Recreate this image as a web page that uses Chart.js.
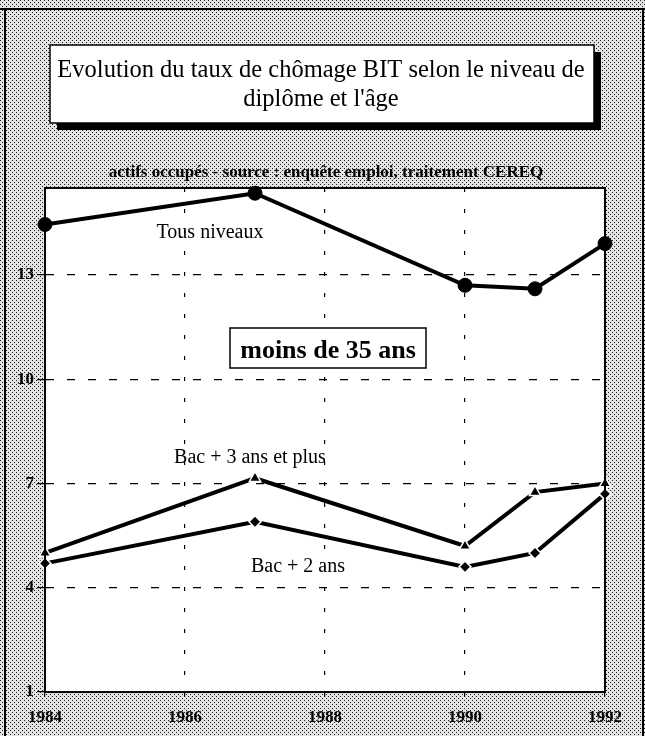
<!DOCTYPE html>
<html lang="fr">
<head>
<meta charset="utf-8">
<title>Evolution du taux de chômage BIT</title>
<script src="https://cdn.jsdelivr.net/npm/chart.js@4.4.1/dist/chart.umd.min.js"></script>
<style>
  html, body { margin: 0; padding: 0; background: #fff; }
  #wrap { width: 645px; height: 736px; position: relative; }
</style>
</head>
<body>
<div id="wrap"><canvas id="chart"></canvas></div>
<script>
const years       = [1984, 1987, 1990, 1991, 1992];
const tousNiveaux = [14.45, 15.35, 12.7, 12.6, 13.9];
const bac3Plus    = [5.0, 7.15, 5.2, 6.75, 7.0];
const bac2        = [4.7, 5.9, 4.6, 5.0, 6.7];
const xTicks      = [1984, 1986, 1988, 1990, 1992];
const yTicks      = [1, 4, 7, 10, 13];

const SERIF = "'Liberation Serif', 'DejaVu Serif', serif";

// grey dotted screen like the scanned page
function stipple(ctx) {
    const tile = document.createElement("canvas");
    tile.width = 4; tile.height = 4;
    const t = tile.getContext("2d");
    t.fillStyle = "#e2e2e2"; t.fillRect(0, 0, 4, 4);
    t.fillStyle = "#1e1e1e"; t.fillRect(0, 0, 1, 1); t.fillRect(2, 2, 1, 1);
    return ctx.createPattern(tile, "repeat");
}

const decor = {
    id: "decor",
    beforeDraw(chart) {
        const { ctx, chartArea: a, width, height } = chart;
        ctx.save();
        ctx.fillStyle = stipple(ctx);
        ctx.fillRect(0, 0, width, height);

        // page frame
        ctx.fillStyle = "#000";
        ctx.fillRect(0, 8, width, 2);
        ctx.fillRect(4, 8, 2, height - 8);
        ctx.fillRect(width - 3, 8, 2, height - 8);

        // title box + shadow
        ctx.fillRect(57, 52, 544, 78);
        ctx.fillStyle = "#fff";
        ctx.fillRect(50, 45, 544, 78);
        ctx.strokeStyle = "#000"; ctx.lineWidth = 1.5;
        ctx.strokeRect(50, 45, 544, 78);
        ctx.fillStyle = "#000";
        ctx.textAlign = "center"; ctx.textBaseline = "alphabetic";
        ctx.font = `24.5px ${SERIF}`;
        ctx.fillText("Evolution du taux de chômage BIT selon le niveau de", 321, 77);
        ctx.fillText("diplôme et l'âge", 321, 106);

        ctx.font = `bold 17px ${SERIF}`;
        ctx.fillText("actifs occupés - source : enquête emploi, traitement CEREQ", 326, 177);

        // plot background
        ctx.fillStyle = "#fff";
        ctx.fillRect(a.left, a.top, a.right - a.left, a.bottom - a.top);
        ctx.restore();
    },
    afterDraw(chart) {
        const { ctx, chartArea: a } = chart;
        ctx.save();
        ctx.strokeStyle = "#000"; ctx.lineWidth = 2;
        ctx.strokeRect(a.left, a.top, a.right - a.left, a.bottom - a.top);

        ctx.fillStyle = "#000";
        ctx.textAlign = "center"; ctx.textBaseline = "alphabetic";
        ctx.font = `20px ${SERIF}`;
        ctx.fillText("Tous niveaux", 210, 238);
        ctx.fillText("Bac + 3 ans et plus", 250, 463);
        ctx.fillText("Bac + 2 ans", 298, 572);

        // "moins de 35 ans" box
        ctx.fillStyle = "#fff";
        ctx.fillRect(230, 328, 196, 40);
        ctx.lineWidth = 1.5;
        ctx.strokeRect(230, 328, 196, 40);
        ctx.fillStyle = "#000";
        ctx.font = `bold 26px ${SERIF}`;
        ctx.fillText("moins de 35 ans", 328, 358);
        ctx.restore();
    }
};

const line = (label, data, style, radius, ring) => ({
    label,
    data: years.map((y, i) => ({ x: y, y: data[i] })),
    borderColor: "#000",
    borderWidth: 4,
    pointStyle: style,
    pointRadius: radius,
    pointBackgroundColor: "#000",
    pointBorderColor: ring ? "#fff" : "#000",
    pointBorderWidth: ring ? 1.5 : 1,
    tension: 0,
    clip: false
});

new Chart(document.getElementById("chart"), {
    type: "line",
    data: {
        datasets: [
            line("Tous niveaux", tousNiveaux, "circle", 7, false),
            line("Bac + 3 ans et plus", bac3Plus, "triangle", 6.5, true),
            line("Bac + 2 ans", bac2, "rectRot", 6, true)
        ]
    },
    options: {
        responsive: true, maintainAspectRatio: false, animation: false, devicePixelRatio: 1,
        layout: { padding: { top: 188, left: 0, right: 40, bottom: 0 } },
        plugins: { legend: { display: false }, tooltip: { enabled: false } },
        scales: {
            x: {
                type: "linear", min: 1984, max: 1992,
                afterBuildTicks: s => { s.ticks = xTicks.map(v => ({ value: v })); },
                afterFit: s => { s.height = 44; },
                grid: { color: "#000", lineWidth: 1.2, tickLength: 5, tickColor: "#000" },
                border: { display: true, color: "#000", width: 2, dash: [4, 17] },
                ticks: { color: "#000", padding: 10, font: { family: SERIF, size: 17, weight: "bold" }, callback: v => String(v), maxRotation: 0 }
            },
            y: {
                type: "linear", min: 1, max: 15.5,
                afterBuildTicks: s => { s.ticks = yTicks.map(v => ({ value: v })); },
                afterFit: s => { s.width = 45; },
                grid: { color: "#000", lineWidth: 1.2, tickLength: 8, tickColor: "#000" },
                border: { display: true, color: "#000", width: 2, dash: [8, 13] },
                ticks: { color: "#000", padding: 3, font: { family: SERIF, size: 17, weight: "bold" }, callback: v => String(v) }
            }
        }
    },
    plugins: [decor]
});
</script>
</body>
</html>
